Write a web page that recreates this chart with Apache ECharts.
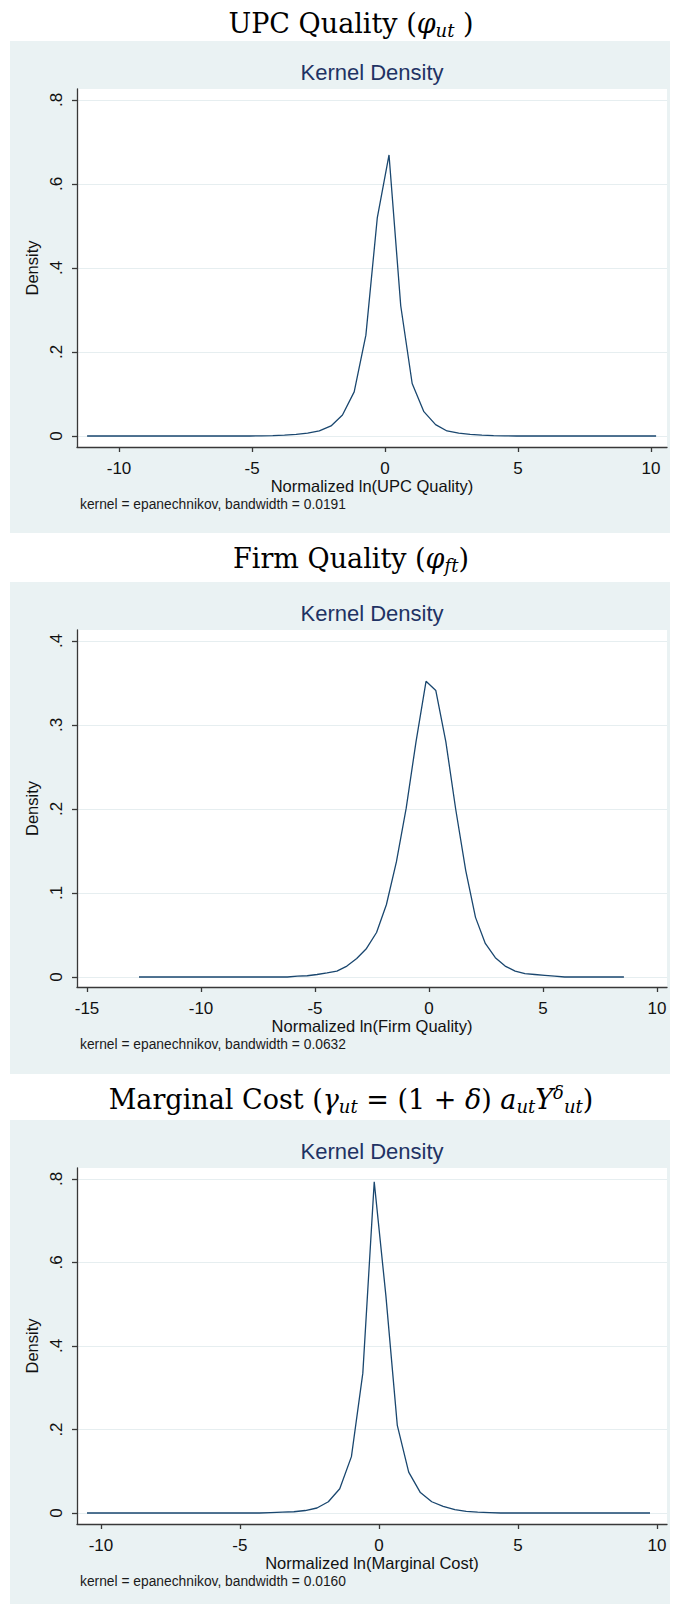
<!DOCTYPE html>
<html><head><meta charset="utf-8">
<script src="https://cdn.jsdelivr.net/npm/echarts@6/dist/echarts.min.js"></script>
<style>html,body{margin:0;padding:0;background:#fff}#c{width:673px;height:1604px}</style>
</head><body><div id="c"></div>
<script>
// ---------- data ----------
const upcX = [-11.20,-10.76,-10.33,-9.89,-9.45,-9.02,-8.58,-8.14,-7.71,-7.27,-6.84,-6.40,-5.96,-5.53,-5.09,-4.65,-4.22,-3.78,-3.34,-2.91,-2.47,-2.03,-1.60,-1.16,-0.72,-0.29,0.15,0.59,1.02,1.46,1.90,2.33,2.77,3.20,3.64,4.08,4.51,4.95,5.39,5.82,6.26,6.70,7.13,7.57,8.01,8.44,8.88,9.32,9.75,10.19];
const upcY = [0,0,0,0,0,0,0,0,0,0,0,0,0,0,0,0.0005,0.001,0.002,0.004,0.007,0.012,0.024,0.05,0.105,0.24,0.52,0.669,0.31,0.125,0.058,0.027,0.012,0.007,0.004,0.002,0.001,0.0005,0,0,0,0,0,0,0,0,0,0,0,0,0];

const firmX = [-12.72,-12.29,-11.85,-11.42,-10.98,-10.55,-10.12,-9.68,-9.25,-8.81,-8.38,-7.94,-7.51,-7.08,-6.64,-6.21,-5.77,-5.34,-4.91,-4.47,-4.04,-3.60,-3.17,-2.74,-2.30,-1.87,-1.43,-1.00,-0.57,-0.13,0.30,0.74,1.17,1.61,2.04,2.47,2.91,3.34,3.78,4.21,4.64,5.08,5.51,5.95,6.38,6.81,7.25,7.68,8.12,8.55];
const firmY = [0,0,0,0,0,0,0,0,0,0,0,0,0,0,0,0,0.001,0.0015,0.003,0.005,0.007,0.013,0.022,0.034,0.053,0.086,0.137,0.201,0.28,0.352,0.341,0.28,0.2,0.127,0.071,0.04,0.023,0.013,0.007,0.004,0.003,0.002,0.001,0,0,0,0,0,0,0];

const mcX = [-10.50,-10.09,-9.67,-9.26,-8.85,-8.43,-8.02,-7.61,-7.19,-6.78,-6.37,-5.95,-5.54,-5.13,-4.71,-4.30,-3.89,-3.47,-3.06,-2.65,-2.23,-1.82,-1.41,-0.99,-0.58,-0.17,0.25,0.66,1.07,1.49,1.90,2.31,2.73,3.14,3.55,3.97,4.38,4.79,5.21,5.62,6.03,6.45,6.86,7.27,7.69,8.10,8.51,8.93,9.34,9.75];
const mcY = [0,0,0,0,0,0,0,0,0,0,0,0,0,0,0,0,0.001,0.002,0.003,0.006,0.012,0.027,0.058,0.135,0.335,0.793,0.52,0.21,0.098,0.049,0.027,0.016,0.008,0.004,0.002,0.001,0,0,0,0,0,0,0,0,0,0,0,0,0,0];

const upcXTicks = [-10,-5,0,5,10];
const firmXTicks = [-15,-10,-5,0,5,10];
const mcXTicks = [-10,-5,0,5,10];
const upcYTicks = [0,0.2,0.4,0.6,0.8];
const firmYTicks = [0,0.1,0.2,0.3,0.4];
const mcYTicks = [0,0.2,0.4,0.6,0.8];

const xTitles = ['Normalized ln(UPC Quality)','Normalized ln(Firm Quality)','Normalized ln(Marginal Cost)'];
const notes = ['kernel = epanechnikov, bandwidth = 0.0191','kernel = epanechnikov, bandwidth = 0.0632','kernel = epanechnikov, bandwidth = 0.0160'];
const headTitles = [
  '{n|UPC Quality (}{m|φ}{s|ut}{n| )}',
  '{n|Firm Quality (}{m|φ}{s|ft}{n|)}',
  '{n|Marginal Cost (}{m|γ}{s|ut}{n| = (1 + }{m|δ}{n|) }{m|a}{s|ut}{m|Y}{p|δ}{s|ut}{n|)}'
];
const subTitle = 'Kernel Density';

// ---------- layout ----------
const panels = [
  {bgTop:41,  bgH:492, plotTop:89,   axisY:447,  xMin:-11.58, xMax:10.60, yMin:-0.0262, yMax:0.826, headY:23.5},
  {bgTop:582, bgH:492, plotTop:630,  axisY:987,  xMin:-15.44, xMax:10.44, yMin:-0.0119, yMax:0.4131, headY:558.5},
  {bgTop:1120,bgH:484, plotTop:1168, axisY:1524, xMin:-10.86, xMax:10.36, yMin:-0.0263, yMax:0.8263, headY:1099.5}
];
const xsAll = [upcX, firmX, mcX];
const ysAll = [upcY, firmY, mcY];
const xTickAll = [upcXTicks, firmXTicks, mcXTicks];
const yTickAll = [upcYTicks, firmYTicks, mcYTicks];

const sans = "'Liberation Sans', Arial, Helvetica, sans-serif";
const serif = "'DejaVu Serif', serif";
const axisColor = '#383838';
const textColor = '#111';
const fmt = v => { const s = String(+(+v).toFixed(3)); return s.replace(/^0\./, '.').replace(/^-0\./, '-.'); };

const rich = {
  n: {fontFamily: serif, fontSize: 27, lineHeight: 32, verticalAlign: 'middle', fill: '#000'},
  m: {fontFamily: serif, fontSize: 27, fontStyle: 'italic', lineHeight: 32, verticalAlign: 'middle', fill: '#000'},
  s: {fontFamily: serif, fontSize: 18, fontStyle: 'italic', lineHeight: 14, verticalAlign: 'bottom', fill: '#000'},
  p: {fontFamily: serif, fontSize: 18, fontStyle: 'italic', lineHeight: 14, verticalAlign: 'top', fill: '#000'}
};

const chart = echarts.init(document.getElementById('c'), null, {renderer: 'svg'});

const grids = panels.map(p => ({
  left: 77, width: 590, top: p.plotTop, height: p.axisY - p.plotTop,
  show: true, backgroundColor: '#ffffff', borderWidth: 0, containLabel: false, outerBoundsMode: 'none'
}));

const xAxes = panels.map((p, i) => ({
  type: 'value', gridIndex: i, min: p.xMin, max: p.xMax,
  axisLine: {show: true, onZero: false, lineStyle: {color: axisColor, width: 1.3}},
  axisTick: {show: true, length: 5, customValues: xTickAll[i], lineStyle: {color: axisColor, width: 1.3}},
  axisLabel: {show: true, customValues: xTickAll[i], margin: 13, fontSize: 17, color: textColor, fontFamily: sans, formatter: v => fmt(v)},
  splitLine: {show: false},
  name: xTitles[i], nameLocation: 'middle', nameGap: 28,
  nameTextStyle: {fontSize: 16.5, color: textColor, fontFamily: sans}
}));

const yAxes = panels.map((p, i) => ({
  type: 'value', gridIndex: i, min: p.yMin, max: p.yMax,
  axisLine: {show: true, onZero: false, lineStyle: {color: axisColor, width: 1.3}},
  axisTick: {show: true, length: 5, customValues: yTickAll[i], lineStyle: {color: axisColor, width: 1.3}},
  axisLabel: {show: true, customValues: yTickAll[i], rotate: 90, margin: 12, fontSize: 17, color: textColor, fontFamily: sans, formatter: v => fmt(v)},
  splitLine: {show: true, lineStyle: {color: '#e6eef0', width: 1}},
  name: 'Density', nameLocation: 'middle', nameGap: 31,
  nameTextStyle: {fontSize: 16.5, color: textColor, fontFamily: sans}
}));

const series = panels.map((p, i) => ({
  type: 'line', xAxisIndex: i, yAxisIndex: i,
  data: xsAll[i].map((x, j) => [x, ysAll[i][j]]),
  showSymbol: false, symbol: 'none', silent: true,
  lineStyle: {color: '#1a476f', width: 1.3}
}));

const elements = [];
panels.forEach((p, i) => {
  elements.push({type: 'rect', z: -10, silent: true, shape: {x: 10, y: p.bgTop, width: 660, height: p.bgH}, style: {fill: '#eaf2f3'}});
  elements.push({type: 'text', z: 10, silent: true, x: 351, y: p.headY,
    style: {text: headTitles[i], rich: rich, align: 'center', verticalAlign: 'middle', textAlign: 'center', textVerticalAlign: 'middle'}});
  elements.push({type: 'text', z: 10, silent: true, x: 372, y: p.bgTop + 31.5,
    style: {text: subTitle, fontSize: 22, fontFamily: sans, fill: '#1f3364', align: 'center', verticalAlign: 'middle', textAlign: 'center', textVerticalAlign: 'middle'}});
  elements.push({type: 'text', z: 10, silent: true, x: 80, y: p.axisY + 57,
    style: {text: notes[i], fontSize: 13.8, fontFamily: sans, fill: '#1a1a1a', align: 'left', verticalAlign: 'middle', textAlign: 'left', textVerticalAlign: 'middle'}});
});

chart.setOption({
  animation: false,
  backgroundColor: '#ffffff',
  grid: grids,
  xAxis: xAxes,
  yAxis: yAxes,
  series: series,
  graphic: {elements: elements}
});
</script>
</body></html>
